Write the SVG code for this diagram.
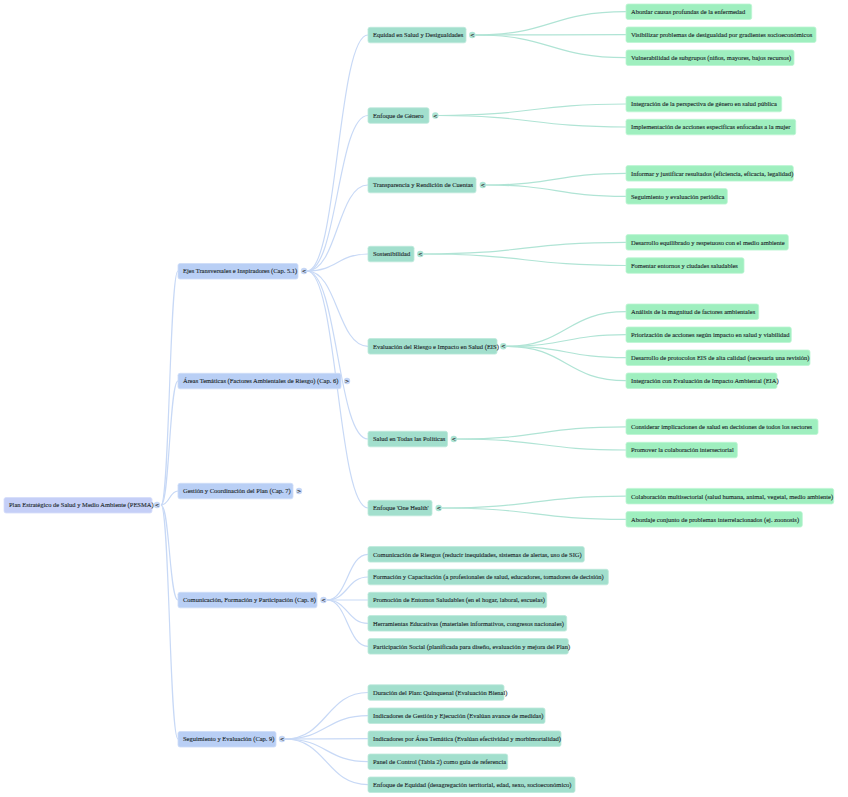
<svg xmlns="http://www.w3.org/2000/svg" width="848" height="797" viewBox="0 0 848 797">
<style>
text{font-family:"Liberation Serif","Times New Roman",serif;font-size:6.5px;fill:#222b2e;stroke:#222b2e;stroke-width:0.12}
.r{fill:#c5cff7;stroke:#d6ddfa;stroke-width:0.8}
.a{fill:#b9cff5;stroke:#cddcf8;stroke-width:0.8}
.b{fill:#a2dfcd;stroke:#bde9db;stroke-width:0.8}
.c{fill:#9fefbf;stroke:#bdf5d3;stroke-width:0.8}
.ca{fill:#c6d7f6}
.cb{fill:#ade4d5}
.g{font-family:"DejaVu Sans",sans-serif;font-size:5.5px;font-weight:bold;text-anchor:middle;fill:#333;stroke:none}
.la{fill:none;stroke:#c8d9f6;stroke-width:1.2}
.lb{fill:none;stroke:#b0e4d5;stroke-width:1.2}
</style>
<rect width="848" height="797" fill="#ffffff"/>
<g id="connectors">
<path class="la" d="M161,505 C169.5,505 169.5,271 178,271"/>
<path class="la" d="M161,505 C169.5,505 169.5,381 178,381"/>
<path class="la" d="M161,505 C169.5,505 169.5,491 178,491"/>
<path class="la" d="M161,505 C169.5,505 169.5,600 178,600"/>
<path class="la" d="M161,505 C169.5,505 169.5,739 178,739"/>
<path class="la" d="M307,271 C337.5,271 337.5,35 368,35"/>
<path class="la" d="M307,271 C337.5,271 337.5,115.5 368,115.5"/>
<path class="la" d="M307,271 C337.5,271 337.5,185 368,185"/>
<path class="la" d="M307,271 C337.5,271 337.5,254 368,254"/>
<path class="la" d="M307,271 C337.5,271 337.5,346.3 368,346.3"/>
<path class="la" d="M307,271 C337.5,271 337.5,439 368,439"/>
<path class="la" d="M307,271 C337.5,271 337.5,508 368,508"/>
<path class="la" d="M327,600 C347.5,600 347.5,554.3 368,554.3"/>
<path class="la" d="M327,600 C347.5,600 347.5,577 368,577"/>
<path class="la" d="M327,600 C347.5,600 347.5,600 368,600"/>
<path class="la" d="M327,600 C347.5,600 347.5,623.3 368,623.3"/>
<path class="la" d="M327,600 C347.5,600 347.5,646.3 368,646.3"/>
<path class="la" d="M285,739 C326.5,739 326.5,692.5 368,692.5"/>
<path class="la" d="M285,739 C326.5,739 326.5,715.7 368,715.7"/>
<path class="la" d="M285,739 C326.5,739 326.5,738.7 368,738.7"/>
<path class="la" d="M285,739 C326.5,739 326.5,761.7 368,761.7"/>
<path class="la" d="M285,739 C326.5,739 326.5,784.7 368,784.7"/>
<path class="lb" d="M475.5,35 C550.75,35 550.75,11.7 626,11.7"/>
<path class="lb" d="M475.5,35 C550.75,35 550.75,34.7 626,34.7"/>
<path class="lb" d="M475.5,35 C550.75,35 550.75,57.7 626,57.7"/>
<path class="lb" d="M438.5,115.5 C532.25,115.5 532.25,104 626,104"/>
<path class="lb" d="M438.5,115.5 C532.25,115.5 532.25,127 626,127"/>
<path class="lb" d="M486,185 C556,185 556,173.3 626,173.3"/>
<path class="lb" d="M486,185 C556,185 556,196.3 626,196.3"/>
<path class="lb" d="M423.5,254 C524.75,254 524.75,242.3 626,242.3"/>
<path class="lb" d="M423.5,254 C524.75,254 524.75,265.5 626,265.5"/>
<path class="lb" d="M506.5,346.3 C566.25,346.3 566.25,311.7 626,311.7"/>
<path class="lb" d="M506.5,346.3 C566.25,346.3 566.25,334.7 626,334.7"/>
<path class="lb" d="M506.5,346.3 C566.25,346.3 566.25,357.7 626,357.7"/>
<path class="lb" d="M506.5,346.3 C566.25,346.3 566.25,380.7 626,380.7"/>
<path class="lb" d="M457,439 C541.5,439 541.5,426.8 626,426.8"/>
<path class="lb" d="M457,439 C541.5,439 541.5,450 626,450"/>
<path class="lb" d="M442,508 C534,508 534,496.2 626,496.2"/>
<path class="lb" d="M442,508 C534,508 534,519.3 626,519.3"/>
</g>
<g id="root"><rect class="r" x="4" y="497.5" width="148" height="15.5" rx="2"/><text x="9" y="507.4">Plan Estratégico de Salud y Medio Ambiente (PESMA)</text><circle class="ca" cx="157" cy="505" r="3.2"/><text class="g" x="157" y="507">&lt;</text></g>
<g id="ejes"><rect class="a" x="178" y="263.5" width="120" height="15.5" rx="2"/><text x="183" y="273.4">Ejes Transversales e Inspiradores (Cap. 5.1)</text><circle class="ca" cx="304" cy="271" r="3.2"/><text class="g" x="304" y="273">&lt;</text></g>
<g id="areas"><rect class="a" x="178" y="373.3" width="163" height="15.5" rx="2"/><text x="183" y="383.4">Áreas Temáticas (Factores Ambientales de Riesgo) (Cap. 6)</text><circle class="ca" cx="347" cy="381" r="3.2"/><text class="g" x="347" y="383">&gt;</text></g>
<g id="gestion"><rect class="a" x="178" y="483.3" width="115" height="15.5" rx="2"/><text x="183" y="493.4">Gestión y Coordinación del Plan (Cap. 7)</text><circle class="ca" cx="299" cy="491" r="3.2"/><text class="g" x="299" y="493">&gt;</text></g>
<g id="comunicacion"><rect class="a" x="178" y="592.3" width="139" height="15.5" rx="2"/><text x="183" y="602.4">Comunicación, Formación y Participación (Cap. 8)</text><circle class="ca" cx="323.5" cy="600" r="3.2"/><text class="g" x="323.5" y="602">&lt;</text></g>
<g id="seguimiento"><rect class="a" x="178" y="731.5" width="98" height="15.5" rx="2"/><text x="183" y="741.4">Seguimiento y Evaluación (Cap. 9)</text><circle class="ca" cx="282" cy="739" r="3.2"/><text class="g" x="282" y="741">&lt;</text></g>
<g id="equidad"><rect class="b" x="368" y="27.3" width="98" height="15.5" rx="2"/><text x="373" y="37.4">Equidad en Salud y Desigualdades</text><circle class="cb" cx="472.3" cy="35" r="3.2"/><text class="g" x="472.3" y="37">&lt;</text></g>
<g id="genero"><rect class="b" x="368" y="107.8" width="61" height="15.5" rx="2"/><text x="373" y="117.9">Enfoque de Género</text><circle class="cb" cx="435.3" cy="115.5" r="3.2"/><text class="g" x="435.3" y="117.5">&lt;</text></g>
<g id="transparencia"><rect class="b" x="368" y="177.3" width="108" height="15.5" rx="2"/><text x="373" y="187.4">Transparencia y Rendición de Cuentas</text><circle class="cb" cx="482.8" cy="185" r="3.2"/><text class="g" x="482.8" y="187">&lt;</text></g>
<g id="sostenibilidad"><rect class="b" x="368" y="246.3" width="46" height="15.5" rx="2"/><text x="373" y="256.4">Sostenibilidad</text><circle class="cb" cx="420.3" cy="254" r="3.2"/><text class="g" x="420.3" y="256">&lt;</text></g>
<g id="eis"><rect class="b" x="368" y="338.6" width="129" height="15.5" rx="2"/><text x="373" y="348.7">Evaluación del Riesgo e Impacto en Salud (EIS)</text><circle class="cb" cx="503.3" cy="346.3" r="3.2"/><text class="g" x="503.3" y="348.3">&lt;</text></g>
<g id="todas"><rect class="b" x="368" y="431.3" width="79.5" height="15.5" rx="2"/><text x="373" y="441.4">Salud en Todas las Políticas</text><circle class="cb" cx="453.8" cy="439" r="3.2"/><text class="g" x="453.8" y="441">&lt;</text></g>
<g id="onehealth"><rect class="b" x="368" y="500.3" width="64" height="15.5" rx="2"/><text x="373" y="510.4">Enfoque 'One Health'</text><circle class="cb" cx="438.7" cy="508" r="3.2"/><text class="g" x="438.7" y="510">&lt;</text></g>
<g id="com1"><rect class="b" x="368" y="546.6" width="216.3" height="15.5" rx="2"/><text x="373" y="556.7">Comunicación de Riesgos (reducir inequidades, sistemas de alertas, uso de SIG)</text></g>
<g id="com2"><rect class="b" x="368" y="569.3" width="240.3" height="15.5" rx="2"/><text x="373" y="579.4">Formación y Capacitación (a profesionales de salud, educadores, tomadores de decisión)</text></g>
<g id="com3"><rect class="b" x="368" y="592.3" width="178.7" height="15.5" rx="2"/><text x="373" y="602.4">Promoción de Entornos Saludables (en el hogar, laboral, escuelas)</text></g>
<g id="com4"><rect class="b" x="368" y="615.6" width="198.7" height="15.5" rx="2"/><text x="373" y="625.7">Herramientas Educativas (materiales informativos, congresos nacionales)</text></g>
<g id="com5"><rect class="b" x="368" y="638.6" width="200.3" height="15.5" rx="2"/><text x="373" y="648.7">Participación Social (planificada para diseño, evaluación y mejora del Plan)</text></g>
<g id="seg1"><rect class="b" x="368" y="684.8" width="136" height="15.5" rx="2"/><text x="373" y="694.9">Duración del Plan: Quinquenal (Evaluación Bienal)</text></g>
<g id="seg2"><rect class="b" x="368" y="708" width="177" height="15.5" rx="2"/><text x="373" y="718.1">Indicadores de Gestión y Ejecución (Evalúan avance de medidas)</text></g>
<g id="seg3"><rect class="b" x="368" y="731" width="193" height="15.5" rx="2"/><text x="373" y="741.1">Indicadores por Área Temática (Evalúan efectividad y morbimortalidad)</text></g>
<g id="seg4"><rect class="b" x="368" y="754" width="139.7" height="15.5" rx="2"/><text x="373" y="764.1">Panel de Control (Tabla 2) como guía de referencia</text></g>
<g id="seg5"><rect class="b" x="368" y="777" width="207" height="15.5" rx="2"/><text x="373" y="787.1">Enfoque de Equidad (desagregación territorial, edad, sexo, socioeconómico)</text></g>
<g id="eq1"><rect class="c" x="626" y="4" width="125.7" height="15.5" rx="2"/><text x="631" y="14.1">Abordar causas profundas de la enfermedad</text></g>
<g id="eq2"><rect class="c" x="626" y="27" width="190" height="15.5" rx="2"/><text x="631" y="37.1">Visibilizar problemas de desigualdad por gradientes socioeconómicos</text></g>
<g id="eq3"><rect class="c" x="626" y="50" width="168" height="15.5" rx="2"/><text x="631" y="60.1">Vulnerabilidad de subgrupos (niños, mayores, bajos recursos)</text></g>
<g id="ge1"><rect class="c" x="626" y="96.3" width="155.7" height="15.5" rx="2"/><text x="631" y="106.4">Integración de la perspectiva de género en salud pública</text></g>
<g id="ge2"><rect class="c" x="626" y="119.3" width="169.7" height="15.5" rx="2"/><text x="631" y="129.4">Implementación de acciones específicas enfocadas a la mujer</text></g>
<g id="tr1"><rect class="c" x="626" y="165.6" width="167.3" height="15.5" rx="2"/><text x="631" y="175.7">Informar y justificar resultados (eficiencia, eficacia, legalidad)</text></g>
<g id="tr2"><rect class="c" x="626" y="188.6" width="101.3" height="15.5" rx="2"/><text x="631" y="198.7">Seguimiento y evaluación periódica</text></g>
<g id="so1"><rect class="c" x="626" y="234.6" width="162.3" height="15.5" rx="2"/><text x="631" y="244.7">Desarrollo equilibrado y respetuoso con el medio ambiente</text></g>
<g id="so2"><rect class="c" x="626" y="257.8" width="118" height="15.5" rx="2"/><text x="631" y="267.9">Fomentar entornos y ciudades saludables</text></g>
<g id="ei1"><rect class="c" x="626" y="304" width="132.7" height="15.5" rx="2"/><text x="631" y="314.1">Análisis de la magnitud de factores ambientales</text></g>
<g id="ei2"><rect class="c" x="626" y="327" width="165.3" height="15.5" rx="2"/><text x="631" y="337.1">Priorización de acciones según impacto en salud y viabilidad</text></g>
<g id="ei3"><rect class="c" x="626" y="350" width="184" height="15.5" rx="2"/><text x="631" y="360.1">Desarrollo de protocolos EIS de alta calidad (necesaria una revisión)</text></g>
<g id="ei4"><rect class="c" x="626" y="373" width="151" height="15.5" rx="2"/><text x="631" y="383.1">Integración con Evaluación de Impacto Ambiental (EIA)</text></g>
<g id="to1"><rect class="c" x="626" y="419" width="192" height="15.5" rx="2"/><text x="631" y="429.1">Considerar implicaciones de salud en decisiones de todos los sectores</text></g>
<g id="to2"><rect class="c" x="626" y="442.3" width="111.3" height="15.5" rx="2"/><text x="631" y="452.4">Promover la colaboración intersectorial</text></g>
<g id="oh1"><rect class="c" x="626" y="488.4" width="207.7" height="15.5" rx="2"/><text x="631" y="498.5">Colaboración multisectorial (salud humana, animal, vegetal, medio ambiente)</text></g>
<g id="oh2"><rect class="c" x="626" y="511.6" width="176.3" height="15.5" rx="2"/><text x="631" y="521.7">Abordaje conjunto de problemas interrelacionados (ej. zoonosis)</text></g>
</svg>
